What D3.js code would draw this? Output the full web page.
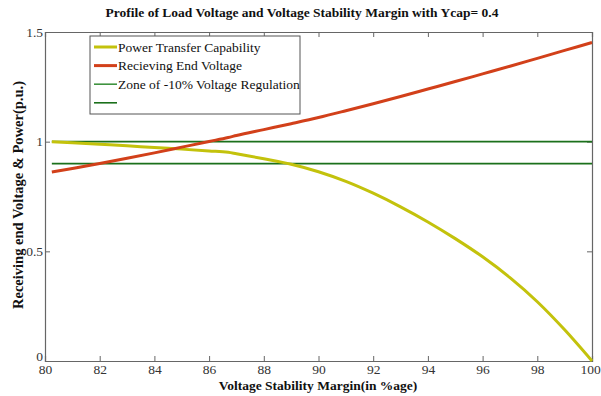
<!DOCTYPE html>
<html>
<head>
<meta charset="utf-8">
<script src="https://cdn.jsdelivr.net/npm/d3@7"></script>
<style>
  html, body { margin: 0; padding: 0; background: #fff; }
  svg, svg text { font-family: 'Liberation Serif', 'Times New Roman', serif; }
</style>
</head>
<body>
<svg id="chart" width="601" height="396"></svg>
<script>
// Voltage stability margin (%) at each computed operating point
const margin = [80.25, 81, 82, 83, 84, 85, 86, 86.7, 87, 88, 89, 90, 91, 92, 93, 94, 95, 96, 97, 98, 99, 100];
// Power transfer capability (p.u.)
const powerTransfer = [1.000, 0.995, 0.988, 0.981, 0.973, 0.966, 0.958, 0.952, 0.945, 0.922, 0.897, 0.863, 0.819, 0.765, 0.703, 0.634, 0.558, 0.475, 0.380, 0.270, 0.142, 0.000];
// Receiving end voltage (p.u.)
const receivingVoltage = [0.862, 0.878, 0.900, 0.924, 0.949, 0.975, 1.001, 1.019, 1.028, 1.055, 1.082, 1.110, 1.141, 1.173, 1.206, 1.240, 1.274, 1.309, 1.344, 1.380, 1.416, 1.452];
// -10% voltage regulation zone limits
const zoneMargin = [80.25, 100];
const zoneUpper = [1.0, 1.0];
const zoneLower = [0.9, 0.9];

const xTicks = [80, 82, 84, 86, 88, 90, 92, 94, 96, 98, 100];
const yTicks = [0, 0.5, 1, 1.5];
const legendLabels = ["Power Transfer Capability", "Recieving End Voltage", "Zone of -10% Voltage Regulation", ""];

const colors = { power: "#c3c20c", voltage: "#d2401a", zoneA: "#3f933f", zoneB: "#1b701b" };
const serif = "'Liberation Serif', 'Times New Roman', serif";

const svg = d3.select("#chart");
const plot = { left: 45, right: 592, top: 32, bottom: 361 };

const x = d3.scaleLinear().domain([80, 100]).range([plot.left, plot.right]);
const y = d3.scaleLinear().domain([0, 1.5]).range([plot.bottom, plot.top]);

// Frame with inward ticks on all four sides
const axisColor = "#666";
const tickLen = 5;

const bottomAxis = d3.axisBottom(x).tickValues(xTicks).tickSize(-tickLen).tickPadding(3).tickFormat(d3.format("d"));
const topAxis = d3.axisTop(x).tickValues(xTicks).tickSize(-tickLen).tickFormat("");
const leftAxis = d3.axisLeft(y).tickValues(yTicks).tickSize(-tickLen).tickPadding(2).tickFormat(d3.format(""));
const rightAxis = d3.axisRight(y).tickValues(yTicks).tickSize(-tickLen).tickFormat("");

function styleAxis(g) {
  g.attr("font-family", serif);
  g.selectAll("path").attr("stroke", axisColor).attr("stroke-width", 1.2);
  g.selectAll("line").attr("stroke", axisColor).attr("stroke-width", 1);
  g.selectAll("text").attr("fill", "#333").attr("font-family", serif).style("font-size", "13.5px");
}

svg.append("g").attr("transform", `translate(0,${plot.bottom})`).call(bottomAxis).call(styleAxis)
  .selectAll("text").attr("dx", d => (d === 100 ? "-2px" : null));
svg.append("g").attr("transform", `translate(0,${plot.top})`).call(topAxis).call(styleAxis);
svg.append("g").attr("transform", `translate(${plot.left},0)`).call(leftAxis).call(styleAxis)
  .selectAll("text").attr("dy", d => (d === 0 ? "-0.05em" : "0.32em"));
svg.append("g").attr("transform", `translate(${plot.right},0)`).call(rightAxis).call(styleAxis);

// Series lines
const line = d3.line().x(d => x(d[0])).y(d => y(d[1]));
const smooth = d3.line().x(d => x(d[0])).y(d => y(d[1])).curve(d3.curveMonotoneX);

svg.append("path")
  .datum(d3.zip(zoneMargin, zoneUpper))
  .attr("d", line).attr("fill", "none").attr("stroke", colors.zoneB).attr("stroke-width", 1.6);
svg.append("path")
  .datum(d3.zip(zoneMargin, zoneLower))
  .attr("d", line).attr("fill", "none").attr("stroke", colors.zoneB).attr("stroke-width", 1.6);
svg.append("path")
  .datum(d3.zip(margin, powerTransfer))
  .attr("d", smooth).attr("fill", "none").attr("stroke", colors.power).attr("stroke-width", 3)
  .attr("stroke-linejoin", "round");
svg.append("path")
  .datum(d3.zip(margin, receivingVoltage))
  .attr("d", smooth).attr("fill", "none").attr("stroke", colors.voltage).attr("stroke-width", 3)
  .attr("stroke-linejoin", "round");

// Legend
const legend = svg.append("g").attr("transform", "translate(90,36)");
legend.append("rect").attr("width", 210).attr("height", 78)
  .attr("fill", "#fff").attr("stroke", "#555").attr("stroke-width", 1);
const legendColors = [colors.power, colors.voltage, colors.zoneA, colors.zoneB];
const legendWidths = [3, 3, 1.6, 1.6];
legendLabels.forEach((label, i) => {
  const cy = 11 + i * 18.6;
  legend.append("line").attr("x1", 4).attr("x2", 27).attr("y1", cy).attr("y2", cy)
    .attr("stroke", legendColors[i]).attr("stroke-width", legendWidths[i]);
  legend.append("text").attr("x", 28).attr("y", cy).attr("dy", "0.35em")
    .attr("font-family", serif).attr("fill", "#111").style("font-size", "13.5px").text(label);
});

// Titles
svg.append("text").attr("x", 302).attr("y", 17).attr("text-anchor", "middle")
  .attr("font-family", serif).style("font-weight", "bold").style("font-size", "13.5px").attr("fill", "#111")
  .text("Profile of Load Voltage and Voltage Stability Margin with Ycap= 0.4");
svg.append("text").attr("x", 318).attr("y", 390).attr("text-anchor", "middle")
  .attr("font-family", serif).style("font-weight", "bold").style("font-size", "13.5px").attr("fill", "#111")
  .text("Voltage Stability Margin(in %age)");
svg.append("text").attr("transform", "translate(23,195) rotate(-90)").attr("text-anchor", "middle")
  .attr("font-family", serif).style("font-weight", "bold").style("font-size", "14.5px").attr("fill", "#111")
  .text("Receiving end Voltage & Power(p.u.)");
</script>
</body>
</html>
